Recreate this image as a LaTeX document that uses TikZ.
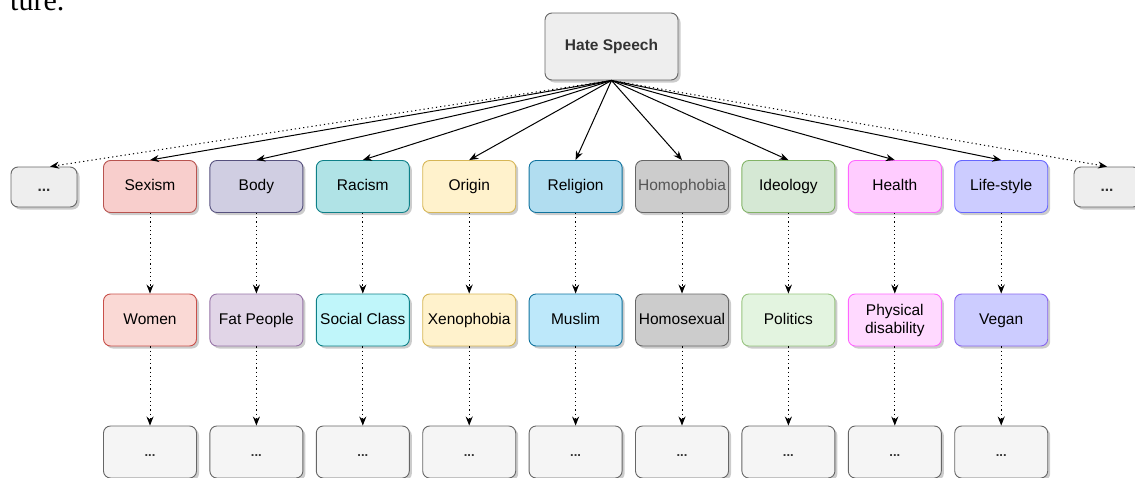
\documentclass[tikz,border=0pt]{standalone}
\usepackage{fontspec}
\setmainfont{Liberation Sans}
\newfontfamily\paperserif{Liberation Serif}
\usetikzlibrary{arrows.meta,shadows}
\definecolor{txtdark}{HTML}{333333}
\definecolor{grayline}{HTML}{666666}
\definecolor{hsfill}{HTML}{EEEEEE}
\definecolor{dotfill}{HTML}{F5F5F5}
\definecolor{sexF}{HTML}{F8CECC}\definecolor{sexD}{HTML}{B85450}
\definecolor{womF}{HTML}{FAD9D5}\definecolor{womD}{HTML}{C8504A}
\definecolor{bodF}{HTML}{D0CEE2}\definecolor{bodD}{HTML}{56517E}
\definecolor{fatF}{HTML}{E1D5E7}\definecolor{fatD}{HTML}{9673A6}
\definecolor{racF}{HTML}{B0E3E6}\definecolor{racD}{HTML}{0E8088}
\definecolor{socF}{HTML}{C0F6FA}\definecolor{socD}{HTML}{0E8088}
\definecolor{oriF}{HTML}{FFF2CC}\definecolor{oriD}{HTML}{D6B656}
\definecolor{relF}{HTML}{B1DDF0}\definecolor{relD}{HTML}{10739E}
\definecolor{musF}{HTML}{BDE8FA}\definecolor{musD}{HTML}{10739E}
\definecolor{homF}{HTML}{CCCCCC}\definecolor{homD}{HTML}{666666}\definecolor{homT}{HTML}{555555}
\definecolor{ideF}{HTML}{D5E8D4}\definecolor{ideD}{HTML}{82B366}
\definecolor{polF}{HTML}{E3F4E0}\definecolor{polD}{HTML}{97C47E}
\definecolor{heaF}{HTML}{FFCCFF}\definecolor{heaD}{HTML}{FF66FF}
\definecolor{phyF}{HTML}{FFD9FF}\definecolor{phyD}{HTML}{FF66FF}
\definecolor{lifF}{HTML}{CCCCFF}\definecolor{lifD}{HTML}{6666FF}
\definecolor{vegF}{HTML}{CCCCFF}\definecolor{vegD}{HTML}{8866EE}
\tikzset{
  box/.style={draw, rounded corners=7pt, minimum width=93pt, minimum height=52pt,
    line width=0.9pt, inner sep=1pt, align=center,
    text height=11.5pt, text depth=3.5pt,
    font=\fontsize{15.5}{18}\selectfont,
    drop shadow={shadow xshift=2.5pt, shadow yshift=-2.5pt, fill=black, opacity=0.2}},
  twoline/.style={text height=, text depth=},
  graybox/.style={box, fill=dotfill, draw=grayline, text=txtdark},
  sidebox/.style={graybox, fill=hsfill, minimum width=66pt, minimum height=40pt},
  dots/.style={font=\fontsize{13}{15}\selectfont\bfseries},
  link/.style={line width=1pt, -{Stealth[length=9pt,width=7pt]}},
  dotlink/.style={link, dash pattern=on 1.2pt off 3pt},
}
\begin{document}
\begin{tikzpicture}[x=1pt,y=-1pt]
\useasboundingbox (0,0) rectangle (1135,477);
\node[anchor=base west, inner sep=0pt, font=\paperserif\fontsize{30}{34}\selectfont] (cap) at (10,10.5) {ture.};

\node[box, fill=hsfill, draw=grayline, text=txtdark, minimum width=133pt, minimum height=67pt, font=\fontsize{15.5}{18}\selectfont\bfseries] (hs) at (611.5,46.5) {Hate Speech};

\node[sidebox] (lx) at (44,187) {\textbf{...}};
\node[sidebox] (rx) at (1107,187) {\textbf{...}};

\foreach \n/\x/\t/\f/\d/\tc in {
  a/150/Sexism/sexF/sexD/black,
  b/256.4/Body/bodF/bodD/black,
  c/362.8/Racism/racF/racD/black,
  d/469.2/Origin/oriF/oriD/black,
  e/575.6/Religion/relF/relD/black,
  f/682/Homophobia/homF/homD/homT,
  g/788.4/Ideology/ideF/ideD/black,
  h/894.8/Health/heaF/heaD/black,
  i/1001.2/Life-style/lifF/lifD/black}{
  \node[box, fill=\f, draw=\d, text=\tc] (r1\n) at (\x,186.5) {\t};
}
\foreach \n/\x/\t/\f/\d/\ex in {
  a/150/Women/womF/womD/{},
  b/256.4/Fat People/fatF/fatD/{},
  c/362.8/Social Class/socF/socD/{},
  d/469.2/Xenophobia/oriF/oriD/{},
  e/575.6/Muslim/musF/musD/{},
  f/682/Homosexual/homF/homD/{},
  g/788.4/Politics/polF/polD/{},
  h/894.8/{Physical\\disability}/phyF/phyD/twoline,
  i/1001.2/Vegan/vegF/vegD/{}}{
  \node[box, fill=\f, draw=\d, text=black, \ex] (r2\n) at (\x,320) {\t};
  \node[graybox, dots] (r3\n) at (\x,452) {...};
}

\foreach \n in {a,b,c,d,e,f,g,h,i}{
  \draw[link] (hs.south) -- (r1\n.north);
  \draw[dotlink] (r1\n.south) -- (r2\n.north);
  \draw[dotlink] (r2\n.south) -- (r3\n.north);
}
\draw[dotlink] (hs.south) -- ([xshift=6pt]lx.north);
\draw[dotlink] (hs.south) -- (rx.north);
\end{tikzpicture}
\end{document}
